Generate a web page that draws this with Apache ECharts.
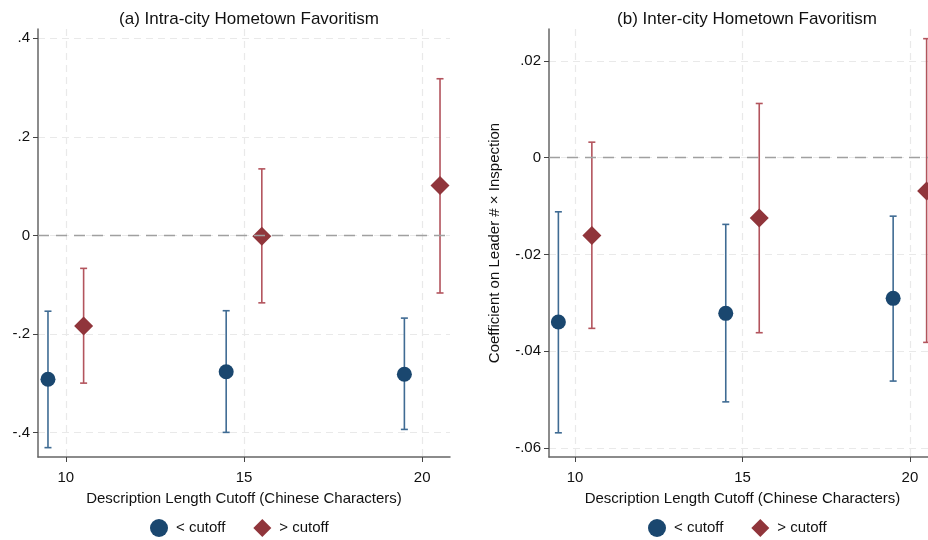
<!DOCTYPE html>
<html>
<head>
<meta charset="utf-8">
<script src="https://cdn.jsdelivr.net/npm/echarts@6/dist/echarts.min.js"></script>
<style>
  html, body { margin: 0; padding: 0; background: #fff; }
  #main { width: 928px; height: 540px; }
</style>
</head>
<body>
<div id="main"></div>
<script>
// x positions: cutoff 10/15/20, shifted by half a unit for each group
var xBelow = [9.5, 14.5, 19.5];
var xAbove = [10.5, 15.5, 20.5];
var xTicks = [10, 15, 20];

// (a) intra-city
var aBelowCoef = [-0.292, -0.277, -0.282];
var aBelowLo = [-0.431, -0.400, -0.394];
var aBelowHi = [-0.154, -0.153, -0.168];
var aAboveCoef = [-0.184, -0.002, 0.101];
var aAboveLo = [-0.300, -0.137, -0.117];
var aAboveHi = [-0.067, 0.135, 0.318];
var aTicks = [-0.4, -0.2, 0, 0.2, 0.4];

// (b) inter-city
var bBelowCoef = [-0.0340, -0.0322, -0.0291];
var bBelowLo = [-0.0569, -0.0505, -0.0462];
var bBelowHi = [-0.0112, -0.0138, -0.0121];
var bAboveCoef = [-0.0161, -0.0125, -0.0069];
var bAboveLo = [-0.0353, -0.0362, -0.0382];
var bAboveHi = [0.0032, 0.0112, 0.0246];
var bTicks = [-0.06, -0.04, -0.02, 0, 0.02];

var blue = '#1a476f', blueBar = '#3f6b93';
var red = '#90353b', redBar = '#b3545d';
var font = 'Liberation Sans, Arial, sans-serif';

function stataNum(v) {
    // Stata style: .4 instead of 0.4
    if (v === 0) return '0';
    var s = String(+v.toFixed(3));
    return s.replace('0.', '.');
}

function pts(xs, ys) {
    return xs.map(function(x, i) { return [x, ys[i]]; });
}
function bars(xs, lo, hi) {
    return xs.map(function(x, i) { return [x, lo[i], hi[i]]; });
}

function renderCap(params, api) {
    var top = api.coord([api.value(0), api.value(2)]);
    var bot = api.coord([api.value(0), api.value(1)]);
    var w = 3.5;
    var st = { stroke: api.visual('color'), lineWidth: 1.6 };
    return {
        type: 'group',
        children: [
            { type: 'line', shape: { x1: top[0], y1: top[1], x2: bot[0], y2: bot[1] }, style: st },
            { type: 'line', shape: { x1: top[0] - w, y1: top[1], x2: top[0] + w, y2: top[1] }, style: st },
            { type: 'line', shape: { x1: bot[0] - w, y1: bot[1], x2: bot[0] + w, y2: bot[1] }, style: st }
        ]
    };
}

function xAxisFor(idx) {
    return {
        type: 'value', gridIndex: idx, min: 9.22, max: 20.78,
        name: 'Description Length Cutoff (Chinese Characters)',
        nameLocation: 'middle', nameGap: 34,
        nameTextStyle: { fontFamily: font, fontSize: 15, color: '#111' },
        axisLine: { show: true, onZero: false, lineStyle: { color: '#666', width: 1.5 } },
        axisTick: { show: true, length: 5, customValues: xTicks, lineStyle: { color: '#444' } },
        axisLabel: { customValues: xTicks, fontFamily: font, fontSize: 15, color: '#111', margin: 13 },
        splitLine: { show: true, lineStyle: { color: '#e9e9e9', type: [7, 5], width: 1.2 } }
    };
}

function yAxisFor(idx, min, max, ticks, name) {
    return {
        type: 'value', gridIndex: idx, min: min, max: max,
        name: name || '', nameLocation: 'middle', nameGap: 47,
        nameTextStyle: { fontFamily: font, fontSize: 15, color: '#111' },
        axisLine: { show: true, onZero: false, lineStyle: { color: '#666', width: 1.5 } },
        axisTick: { show: true, length: 5, customValues: ticks, lineStyle: { color: '#444' } },
        axisLabel: { customValues: ticks, fontFamily: font, fontSize: 15, color: '#111', margin: 8,
            formatter: stataNum },
        splitLine: { show: true, lineStyle: { color: '#e9e9e9', type: [7, 5], width: 1.2 } }
    };
}

var zeroLine = {
    silent: true, symbol: 'none', label: { show: false },
    lineStyle: { color: '#a0a0a0', type: [11, 7], width: 1.4 },
    data: [{ yAxis: 0 }]
};

function panelSeries(idx, bc, blo, bhi, ac, alo, ahi) {
    return [
        { type: 'custom', name: '< cutoff', xAxisIndex: idx, yAxisIndex: idx, z: 2,
          itemStyle: { color: blueBar }, renderItem: renderCap, data: bars(xBelow, blo, bhi),
          markLine: zeroLine },
        { type: 'custom', name: '> cutoff', xAxisIndex: idx, yAxisIndex: idx, z: 2,
          itemStyle: { color: redBar }, renderItem: renderCap, data: bars(xAbove, alo, ahi) },
        { type: 'scatter', name: '< cutoff', xAxisIndex: idx, yAxisIndex: idx, z: 3,
          symbol: 'circle', symbolSize: 15, itemStyle: { color: blue, opacity: 1 },
          data: pts(xBelow, bc) },
        { type: 'scatter', name: '> cutoff', xAxisIndex: idx, yAxisIndex: idx, z: 3,
          symbol: 'diamond', symbolSize: 19, itemStyle: { color: red, opacity: 1 },
          data: pts(xAbove, ac) }
    ];
}

function legendAt(left) {
    return {
        left: left, top: 514, itemGap: 28, itemWidth: 18, itemHeight: 18,
        selectedMode: false,
        textStyle: { fontFamily: font, fontSize: 15, color: '#111', padding: [0, 0, 0, 3] },
        data: [
            { name: '< cutoff', icon: 'circle', itemStyle: { color: blue } },
            { name: '> cutoff', icon: 'diamond', itemStyle: { color: red } }
        ]
    };
}

var myChart = echarts.init(document.getElementById('main'));

var option = {
    animation: false,
    backgroundColor: '#fff',
    title: [
        { text: '(a) Intra-city Hometown Favoritism', left: 244, top: 6, textAlign: 'center',
          textStyle: { fontFamily: font, fontSize: 17, fontWeight: 'normal', color: '#111' } },
        { text: '(b) Inter-city Hometown Favoritism', left: 742, top: 6, textAlign: 'center',
          textStyle: { fontFamily: font, fontSize: 17, fontWeight: 'normal', color: '#111' } }
    ],
    legend: [legendAt(145), legendAt(643)],
    grid: [
        { left: 38, width: 412, top: 29, bottom: 83, outerBoundsMode: 'none' },
        { left: 549, width: 387, top: 29, bottom: 83, outerBoundsMode: 'none' }
    ],
    xAxis: [xAxisFor(0), xAxisFor(1)],
    yAxis: [
        yAxisFor(0, -0.45, 0.419, aTicks),
        yAxisFor(1, -0.0619, 0.0266, bTicks, 'Coefficient on Leader # \u00d7 Inspection')
    ],
    series: [].concat(
        panelSeries(0, aBelowCoef, aBelowLo, aBelowHi, aAboveCoef, aAboveLo, aAboveHi),
        panelSeries(1, bBelowCoef, bBelowLo, bBelowHi, bAboveCoef, bAboveLo, bAboveHi)
    )
};

myChart.setOption(option);
</script>
</body>
</html>
